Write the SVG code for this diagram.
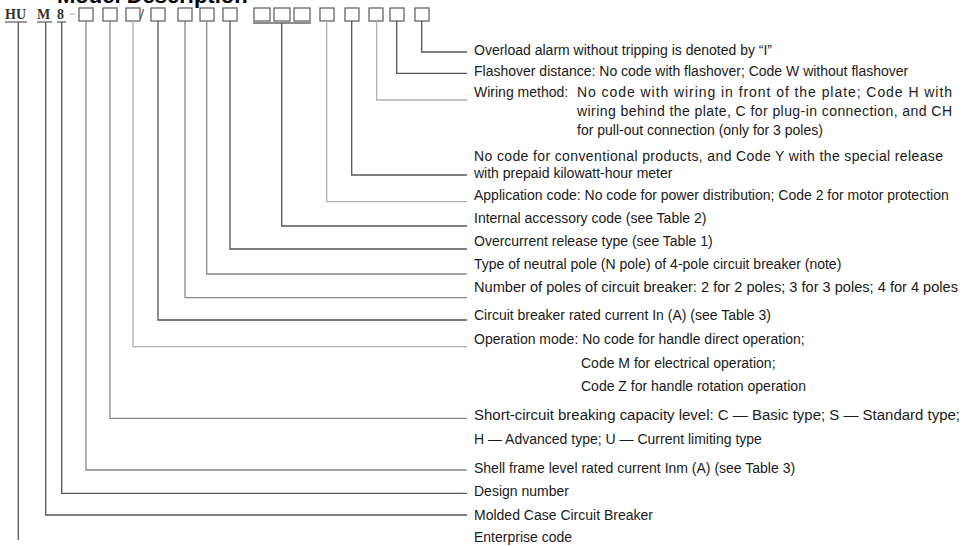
<svg xmlns="http://www.w3.org/2000/svg" width="974" height="546" viewBox="0 0 974 546">
<style>
.t{font-family:"Liberation Sans",Arial,sans-serif;font-size:14px;fill:#1a1a1a}
.h{font-family:"Liberation Sans",Arial,sans-serif;font-size:22px;font-weight:bold;fill:#000}
.c{font-family:"Liberation Serif","Times New Roman",serif;font-size:14px;font-weight:bold;fill:#333}
.ln{fill:none;stroke:#555;stroke-width:1.3}
.lm{stroke:#888}
.ll{stroke:#b0b0b0}
.bx{fill:none;stroke:#666;stroke-width:1.3}
</style>
<rect width="974" height="546" fill="#fff"/>
<text class="h" x="57" y="3">Model Description</text>

<g id="code">
  <text class="c" x="5" y="19">HU</text>
  <line class="bx" x1="5" y1="22" x2="27" y2="22"/>
  <text class="c" x="37" y="19">M</text>
  <line class="bx" x1="37" y1="22" x2="52" y2="22"/>
  <text class="c" x="57" y="19">8</text>
  <line class="bx" x1="57" y1="22" x2="66" y2="22"/>
  <line x1="70" y1="14" x2="75" y2="14" stroke="#bbb" stroke-width="1.3"/>
  <rect class="bx" x="79" y="8" width="14" height="13"/>
  <rect class="bx" x="103" y="8" width="14" height="13"/>
  <rect class="bx" x="126" y="8" width="14" height="13"/>
  <text class="c" x="140" y="19">/</text>
  <rect class="bx" x="151" y="8" width="14" height="13"/>
  <rect class="bx" x="178" y="8" width="14" height="13"/>
  <rect class="bx" x="200" y="8" width="14" height="13"/>
  <rect class="bx" x="223" y="8" width="14" height="13"/>
  <rect class="bx" x="254" y="8" width="16" height="13"/>
  <rect class="bx" x="274" y="8" width="16" height="13"/>
  <rect class="bx" x="294" y="8" width="16" height="13"/>
  <line class="bx" x1="253" y1="23" x2="311" y2="23"/>
  <rect class="bx" x="320" y="8" width="14" height="13"/>
  <rect class="bx" x="345" y="8" width="14" height="13"/>
  <rect class="bx" x="369" y="8" width="14" height="13"/>
  <rect class="bx" x="390" y="8" width="14" height="13"/>
  <rect class="bx" x="415" y="8" width="14" height="13"/>
</g>

<g id="connectors">
  <polyline class="ln" points="421.7,21 421.7,52 467,52"/>
  <polyline class="ln" points="396.7,21 396.7,73.3 467,73.3"/>
  <polyline class="ln ll" points="376.7,21 376.7,100 467,100"/>
  <polyline class="ln" points="351.7,21 351.7,175 467,175"/>
  <polyline class="ln ll" points="326.7,21 326.7,201.7 467,201.7"/>
  <polyline class="ln" points="281.7,23 281.7,226 467,226"/>
  <polyline class="ln" points="230,21 230,249 467,249"/>
  <polyline class="ln lm" points="206.7,21 206.7,274 467,274"/>
  <polyline class="ln lm" points="185,21 185,297.7 467,297.7"/>
  <polyline class="ln" points="158,21 158,320 467,320"/>
  <polyline class="ln ll" points="133,21 133,346.7 467,346.7"/>
  <polyline class="ln lm" points="110,21 110,418.3 467,418.3"/>
  <polyline class="ln lm" points="86,21 86,470 467,470"/>
  <polyline class="ln" points="61.7,22 61.7,493.3 467,493.3"/>
  <polyline class="ln" points="45.7,22 45.7,515 467,515"/>
  <polyline class="ln" points="18.3,22 18.3,540"/>
</g>

<g id="n-overload"><text class="t" x="474" y="55">Overload alarm without tripping is denoted by “I”</text></g>
<g id="n-flashover"><text class="t" x="474" y="76">Flashover distance: No code with flashover; Code W without flashover</text></g>
<g id="n-wiring">
  <text class="t" x="474" y="97">Wiring method:</text>
  <text class="t" x="577" y="97" textLength="375" lengthAdjust="spacing">No code with wiring in front of the plate; Code H with</text>
  <text class="t" x="577" y="116" textLength="375" lengthAdjust="spacing">wiring behind the plate, C for plug-in connection, and CH</text>
  <text class="t" x="577" y="135">for pull-out connection (only for 3 poles)</text>
</g>
<g id="n-special">
  <text class="t" x="474" y="161" textLength="469" lengthAdjust="spacing">No code for conventional products, and Code Y with the special release</text>
  <text class="t" x="474" y="178">with prepaid kilowatt-hour meter</text>
</g>
<g id="n-application"><text class="t" x="474" y="200">Application code: No code for power distribution; Code 2 for motor protection</text></g>
<g id="n-accessory"><text class="t" x="474" y="223">Internal accessory code (see Table 2)</text></g>
<g id="n-overcurrent"><text class="t" x="474" y="246">Overcurrent release type (see Table 1)</text></g>
<g id="n-neutral"><text class="t" x="474" y="269">Type of neutral pole (N pole) of 4-pole circuit breaker (note)</text></g>
<g id="n-poles"><text class="t" x="474" y="292" textLength="484" lengthAdjust="spacingAndGlyphs">Number of poles of circuit breaker: 2 for 2 poles; 3 for 3 poles; 4 for 4 poles</text></g>
<g id="n-rated"><text class="t" x="474" y="320">Circuit breaker rated current In (A) (see Table 3)</text></g>
<g id="n-operation">
  <text class="t" x="474" y="344">Operation mode: No code for handle direct operation;</text>
  <text class="t" x="581" y="368">Code M for electrical operation;</text>
  <text class="t" x="581" y="391">Code Z for handle rotation operation</text>
</g>
<g id="n-shortcircuit">
  <text class="t" x="474" y="420" textLength="486" lengthAdjust="spacingAndGlyphs">Short-circuit breaking capacity level: C — Basic type; S — Standard type;</text>
  <text class="t" x="474" y="444">H — Advanced type; U — Current limiting type</text>
</g>
<g id="n-shell"><text class="t" x="474" y="473">Shell frame level rated current Inm (A) (see Table 3)</text></g>
<g id="n-design"><text class="t" x="474" y="496">Design number</text></g>
<g id="n-molded"><text class="t" x="474" y="520">Molded Case Circuit Breaker</text></g>
<g id="n-enterprise"><text class="t" x="474" y="542">Enterprise code</text></g>
</svg>
